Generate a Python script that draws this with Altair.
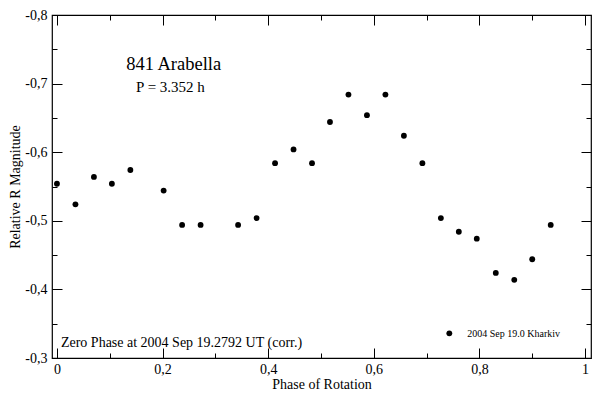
import altair as alt
import pandas as pd

# ---- data ----
phase = [0.000, 0.035, 0.070, 0.104, 0.139, 0.202, 0.237, 0.272, 0.343, 0.378,
         0.413, 0.448, 0.483, 0.517, 0.552, 0.587, 0.622, 0.657, 0.692, 0.727,
         0.761, 0.795, 0.831, 0.866, 0.900, 0.935]
mag = [-0.554, -0.524, -0.564, -0.554, -0.574, -0.544, -0.494, -0.494, -0.494, -0.504,
       -0.584, -0.604, -0.584, -0.644, -0.684, -0.654, -0.684, -0.624, -0.584, -0.504,
       -0.484, -0.474, -0.424, -0.414, -0.444, -0.494]

x_major = [0, 0.2, 0.4, 0.6, 0.8, 1.0]
x_minor = [0.1, 0.3, 0.5, 0.7, 0.9]
y_major = [-0.8, -0.7, -0.6, -0.5, -0.4, -0.3]
y_minor = [-0.75, -0.65, -0.55, -0.45, -0.35]

title_text = ["841 Arabella", "P = 3.352 h", "Zero Phase at 2004 Sep 19.2792 UT (corr.)"]
title_x = [0.221, 0.215, 0.0075]
title_y = [-0.7205, -0.688, -0.3156]
title_size = [18.5, 15, 14]

legend_label = ["2004 Sep 19.0 Kharkiv"]
legend_marker_x = [0.743]
legend_marker_y = [-0.336]
legend_text_x = [0.777]
legend_text_y = [-0.331]

W, H = 539, 343
FONT = "Liberation Serif, Times New Roman, serif"

df = pd.DataFrame({"phase": phase, "mag": mag})
ann = pd.DataFrame({"t": title_text, "x": title_x, "y": title_y})
leg_m = pd.DataFrame({"x": legend_marker_x, "y": legend_marker_y})
leg_t = pd.DataFrame({"t": legend_label, "x": legend_text_x, "y": legend_text_y})

xscale = alt.Scale(domain=[-0.0094, 1.0113], nice=False, zero=False)
yscale = alt.Scale(domain=[-0.8, -0.3], reverse=True, nice=False, zero=False)

lx = "datum.value == 0 ? '0' : datum.value == 1 ? '1' : replace(format(datum.value, '.1f'), '.', ',')"
ly = "(datum.value < 0 ? '-' : '') + replace(format(abs(datum.value), '.1f'), '.', ',')"

x_axis_major = alt.Axis(
    orient="bottom", values=x_major, labelExpr=lx, labelFont=FONT, labelFontSize=14,
    labelColor="black", labelPadding=4, labelFlush=False, labelOverlap=False,
    ticks=False, tickSize=0, domain=False,
    grid=True, gridColor="black", gridOpacity=1, gridWidth=1, gridDash=[10, H - 20, 10],
    title="Phase of Rotation", titleFont=FONT, titleFontSize=14, titleFontWeight="normal",
    titleColor="black", titleX=W / 2, titleY=30, titleBaseline="alphabetic", titleAlign="center",
)
y_axis_major = alt.Axis(
    orient="left", values=y_major, labelExpr=ly, labelFont=FONT, labelFontSize=14,
    labelColor="black", labelPadding=5, labelFlush=False, labelOverlap=False,
    ticks=False, tickSize=0, domain=False,
    grid=True, gridColor="black", gridOpacity=1, gridWidth=1, gridDash=[10, W - 20, 10],
    title="Relative R Magnitude", titleFont=FONT, titleFontSize=14, titleFontWeight="normal",
    titleColor="black", titleX=-33, titleY=H / 2, titleAngle=270, titleBaseline="alphabetic",
    titleAlign="center",
)
x_axis_minor = alt.Axis(
    orient="bottom", values=x_minor, labels=False, ticks=False, tickSize=0, domain=False,
    grid=True, gridColor="black", gridOpacity=1, gridWidth=1, gridDash=[5, H - 10, 5],
    title=None,
)
y_axis_minor = alt.Axis(
    orient="left", values=y_minor, labels=False, ticks=False, tickSize=0, domain=False,
    grid=True, gridColor="black", gridOpacity=1, gridWidth=1, gridDash=[5, W - 10, 5],
    title=None,
)

points = alt.Chart(df).mark_circle(size=34, color="black", opacity=1).encode(
    x=alt.X("phase:Q", scale=xscale, axis=x_axis_major),
    y=alt.Y("mag:Q", scale=yscale, axis=y_axis_major),
)
minor = alt.Chart(df).mark_circle(size=1, opacity=0).encode(
    x=alt.X("phase:Q", scale=xscale, axis=x_axis_minor),
    y=alt.Y("mag:Q", scale=yscale, axis=y_axis_minor),
)


def text_layer(row_df, align, size):
    return alt.Chart(row_df).mark_text(
        font=FONT, fontSize=size, color="black", align=align, baseline="alphabetic"
    ).encode(
        x=alt.X("x:Q", scale=xscale, axis=None),
        y=alt.Y("y:Q", scale=yscale, axis=None),
        text="t:N",
    )


t1 = text_layer(ann.iloc[[0]], "center", title_size[0])
t2 = text_layer(ann.iloc[[1]], "center", title_size[1])
t3 = text_layer(ann.iloc[[2]], "left", title_size[2])

leg_marker = alt.Chart(leg_m).mark_circle(size=34, color="black", opacity=1).encode(
    x=alt.X("x:Q", scale=xscale, axis=None),
    y=alt.Y("y:Q", scale=yscale, axis=None),
)
leg_text = text_layer(leg_t, "left", 10)

chart = alt.layer(points, minor, t1, t2, t3, leg_marker, leg_text).resolve_axis(
    x="independent", y="independent"
).properties(
    width=W, height=H,
    autosize=alt.AutoSizeParams(type="none"),
    padding={"left": 44, "top": 7, "right": 1, "bottom": 32},
).configure_view(stroke="black", strokeWidth=1.2)

chart.save("out.html", embed_options={"renderer": "svg", "actions": False})
